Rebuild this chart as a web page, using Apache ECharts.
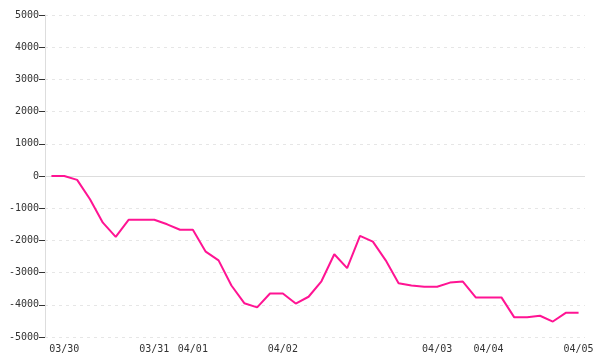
<!DOCTYPE html>
<html>
<head>
<meta charset="utf-8">
<script src="https://cdn.jsdelivr.net/npm/echarts@6/dist/echarts.min.js"></script>
<style>html,body{margin:0;padding:0;background:#fff}#c{width:600px;height:360px}</style>
</head>
<body>
<div id="c"></div>
<script>
var values = [0, 0, -120, -720, -1450, -1890, -1360, -1360, -1360, -1500,
  -1670, -1670, -2350, -2620, -3400, -3950, -4080, -3650, -3650, -3960,
  -3750, -3270, -2430, -2860, -1860, -2040, -2620, -3330, -3400, -3440,
  -3440, -3310, -3280, -3770, -3770, -3770, -4390, -4390, -4340, -4520,
  -4250, -4250];
var labelIndex = [1, 8, 11, 18, 30, 34, 41];
var labelText = ['03/30', '03/31', '04/01', '04/02', '04/03', '04/04', '04/05'];
var yTicks = [-5000, -4000, -3000, -2000, -1000, 0, 1000, 2000, 3000, 4000, 5000];

var categories = values.map(function (v, i) { return String(i); });
var font = '"DejaVu Sans Mono", monospace';

var chart = echarts.init(document.getElementById('c'), null, {renderer: 'canvas'});
chart.setOption({
  animation: false,
  backgroundColor: '#fff',
  grid: {left: 45, right: 15, top: 15, bottom: 23, containLabel: false},
  xAxis: {
    type: 'category',
    data: categories,
    boundaryGap: true,
    axisLine: {show: false},
    axisTick: {show: false},
    splitLine: {show: false},
    axisLabel: {
      interval: function (idx) { return labelIndex.indexOf(idx) >= 0; },
      formatter: function (val, idx) {
        var k = labelIndex.indexOf(idx);
        return k >= 0 ? labelText[k] : '';
      },
      margin: 7,
      color: '#333',
      fontFamily: font,
      fontSize: 10,
      hideOverlap: false
    }
  },
  yAxis: {
    type: 'value',
    min: yTicks[0],
    max: yTicks[yTicks.length - 1],
    interval: 1000,
    axisLine: {show: true, lineStyle: {color: '#ddd', width: 1}},
    axisTick: {show: true, length: 6, lineStyle: {color: '#333'}},
    axisLabel: {
      margin: 6,
      color: '#333',
      fontFamily: font,
      fontSize: 10,
      formatter: function (v) { return String(v); }
    },
    splitLine: {show: true, lineStyle: {color: '#e6e6e6', type: [3, 4], width: 1}}
  },
  series: [{
    type: 'line',
    data: values,
    showSymbol: false,
    symbol: 'none',
    smooth: false,
    lineStyle: {color: '#ff1493', width: 2},
    itemStyle: {color: '#ff1493'},
    z: 3,
    markLine: {
      silent: true,
      symbol: ['none', 'none'],
      label: {show: false},
      lineStyle: {color: '#dddddd', type: 'solid', width: 1},
      data: [{yAxis: 0}],
      z: 1
    }
  }]
});
</script>
</body>
</html>
